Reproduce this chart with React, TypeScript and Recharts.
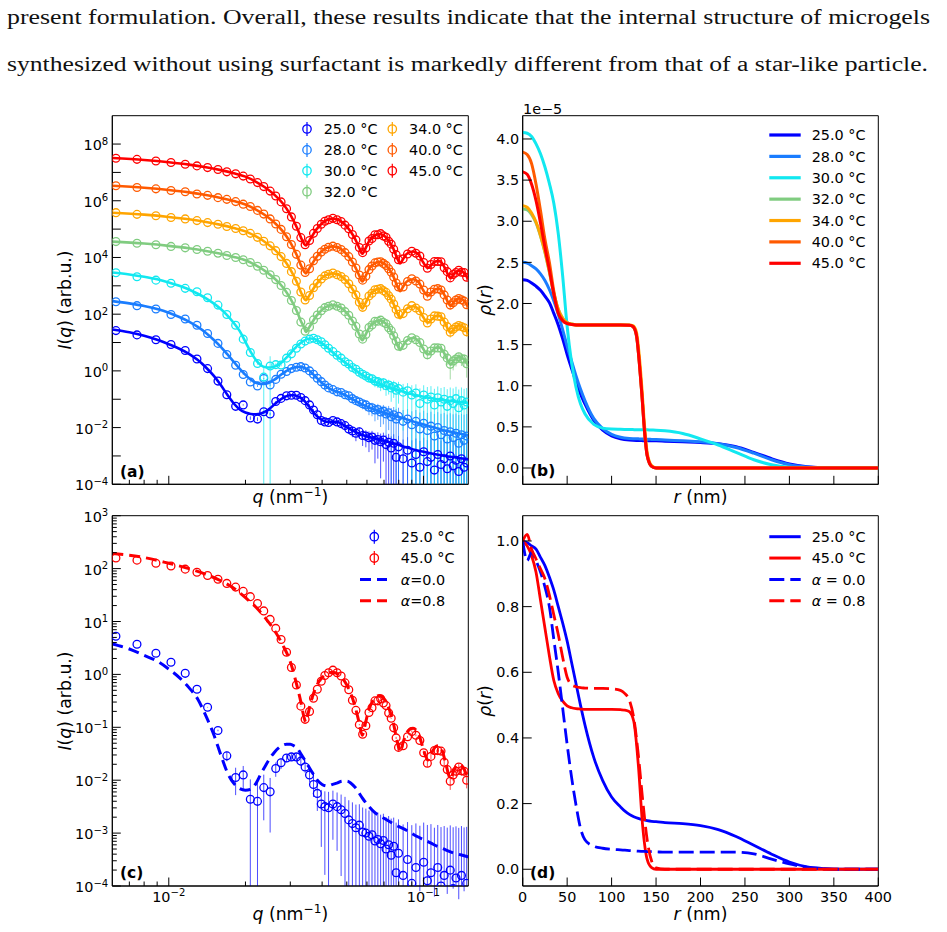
import React from 'react';
import { ComposedChart, Line, Scatter, XAxis, YAxis, ErrorBar, ReferenceArea } from 'recharts';

// #region text and labels
const PARAGRAPH = [
  'present formulation. Overall, these results indicate that the internal structure of microgels',
  'synthesized without using surfactant is markedly different from that of a star-like particle.',
];
const TEMP_LABELS = ['25.0 °C', '28.0 °C', '30.0 °C', '32.0 °C', '34.0 °C', '40.0 °C', '45.0 °C'];
const TEMP_COLORS = ['#0000ff', '#1a7dff', '#12e8f0', '#80cc80', '#ffa500', '#ff5a00', '#ff0000'];
const MODEL_VALUES = ['0.0', '0.8'];
// #endregion

// #region axes
const Q_DOMAIN = [0.006, 0.15];
const Q_TICKS = [0.007, 0.008, 0.009, 0.01, 0.02, 0.03, 0.04, 0.05, 0.06, 0.07, 0.08, 0.09, 0.1];
const IA_DOMAIN = [1e-4, 1e9];
const IA_TICKS = [1e-4, 1e-3, 1e-2, 1e-1, 1, 1e1, 1e2, 1e3, 1e4, 1e5, 1e6, 1e7, 1e8];
const IC_DOMAIN = [1e-4, 1e3];
const IC_DECADES = [1e-4, 1e-3, 1e-2, 1e-1, 1, 10, 100];
const MANTISSAS = [1, 2, 3, 4, 5, 6, 7, 8, 9];
const IC_TICKS = [...IC_DECADES.flatMap((d) => MANTISSAS.map((m) => m * d)), 1e3];
const R_DOMAIN = [0, 400];
const R_TICKS = [0, 50, 100, 150, 200, 250, 300, 350, 400];
const RHO_B_DOMAIN = [-0.198, 4.283];
const RHO_B_TICKS = [0, 0.5, 1, 1.5, 2, 2.5, 3, 3.5, 4];
const RHO_D_DOMAIN = [-0.051, 1.077];
const RHO_D_TICKS = [0, 0.2, 0.4, 0.6, 0.8, 1.0];
// #endregion

// #region panel (a): measured I(q), log10 values as plotted
const QD = [
  0.0062, 0.0075, 0.0089, 0.0102, 0.0116, 0.0129, 0.0142, 0.0156, 0.0169, 0.0183,
  0.0196, 0.0209, 0.0223, 0.0236, 0.025, 0.0263, 0.0276, 0.029, 0.0303, 0.0317,
  0.033, 0.0343, 0.0357, 0.037, 0.0383, 0.0397, 0.041, 0.0424, 0.0441, 0.0458,
  0.0475, 0.0492, 0.0509, 0.0526, 0.0543, 0.056, 0.0577, 0.0594, 0.0611, 0.0628,
  0.0645, 0.0662, 0.0679, 0.0696, 0.0713, 0.073, 0.0747, 0.0764, 0.0781, 0.0798,
  0.0832, 0.0866, 0.09, 0.0934, 0.0968, 0.1002, 0.1036, 0.107, 0.1104, 0.1138,
  0.1172, 0.1206, 0.124, 0.1274, 0.1308, 0.1342, 0.1376, 0.141, 0.1444, 0.1478,
];
const D25 = [
  1.42, 1.27, 1.1, 0.93, 0.72, 0.42, 0.08, -0.36, -0.84, -1.25,
  -1.2, -1.66, -1.7, -1.44, -1.52, -1.08, -0.97, -0.88, -0.86, -0.86,
  -0.94, -1.05, -1.2, -1.38, -1.55, -1.75, -1.8, -1.82, -1.75, -1.8,
  -1.86, -1.93, -2.05, -2.12, -2.2, -2.15, -2.28, -2.3, -2.36, -2.33,
  -2.45, -2.42, -2.5, -2.44, -2.6, -2.52, -2.72, -2.55, -3.05, -2.68,
  -3.1, -2.8, -3.25, -2.95, -3.4, -2.85, -3.2, -3.05, -3.5, -2.95,
  -3.3, -3.1, -3.45, -3.0, -3.35, -3.15, -3.55, -3.1, -3.4, -3.25,
];
const D28 = [
  2.44, 2.3, 2.18, 1.99, 1.83, 1.61, 1.32, 0.97, 0.58, 0.2,
  -0.13, -0.39, -0.53, -0.27, -0.5, -0.3, -0.12, -0.02, 0.08, 0.13,
  0.15, 0.1, 0.0, -0.12, -0.26, -0.38, -0.5, -0.6, -0.66, -0.74,
  -0.76, -0.84, -0.88, -0.98, -1.05, -1.1, -1.16, -1.2, -1.28, -1.3,
  -1.38, -1.36, -1.45, -1.42, -1.52, -1.48, -1.62, -1.55, -1.7, -1.6,
  -1.78, -1.7, -1.9, -1.78, -2.05, -1.85, -2.1, -1.95, -2.3, -2.0,
  -2.25, -2.1, -2.4, -2.15, -2.35, -2.2, -2.55, -2.25, -2.45, -2.3,
];
const D30 = [
  3.46, 3.32, 3.2, 3.09, 2.91, 2.79, 2.58, 2.32, 1.99, 1.61,
  1.12, 0.65, 0.26, -0.22, 0.17, 0.22, 0.21, 0.45, 0.6, 0.8,
  0.95, 1.05, 1.12, 1.15, 1.1, 1.03, 0.92, 0.8, 0.68, 0.55,
  0.45, 0.32, 0.24, 0.12, 0.06, -0.05, -0.12, -0.18, -0.25, -0.28,
  -0.36, -0.38, -0.44, -0.42, -0.52, -0.5, -0.6, -0.55, -0.68, -0.62,
  -0.75, -0.7, -0.85, -0.78, -1.15, -0.85, -1.0, -0.92, -1.2, -0.95,
  -1.1, -1.0, -1.25, -1.05, -1.15, -0.98, -1.3, -1.05, -1.2, -1.1,
];
const D32 = [
  4.56, 4.5, 4.45, 4.39, 4.34, 4.28, 4.22, 4.15, 4.07, 4.0,
  3.92, 3.82, 3.69, 3.55, 3.39, 3.22, 3.01, 2.77, 2.48, 2.13,
  1.72, 1.4, 1.55, 1.8, 1.97, 2.12, 2.23, 2.28, 2.33, 2.28,
  2.22, 2.09, 1.96, 1.76, 1.57, 1.3, 1.12, 1.28, 1.53, 1.62,
  1.75, 1.75, 1.79, 1.71, 1.66, 1.52, 1.42, 1.24, 1.05, 0.87,
  0.9, 1.07, 1.17, 1.1, 1.0, 0.77, 0.57, 0.7, 0.81, 0.81,
  0.8, 0.59, 0.45, 0.23, 0.35, 0.42, 0.5, 0.43, 0.42, 0.25,
];
const D34 = [
  5.58, 5.52, 5.47, 5.41, 5.36, 5.3, 5.23, 5.17, 5.09, 5.02,
  4.94, 4.85, 4.71, 4.57, 4.41, 4.24, 4.03, 3.79, 3.5, 3.16,
  2.78, 2.5, 2.66, 2.93, 3.09, 3.24, 3.35, 3.41, 3.45, 3.39,
  3.33, 3.22, 3.07, 2.89, 2.68, 2.42, 2.24, 2.41, 2.64, 2.74,
  2.86, 2.88, 2.9, 2.83, 2.77, 2.65, 2.53, 2.36, 2.16, 2.0,
  2.02, 2.19, 2.3, 2.22, 2.12, 1.88, 1.69, 1.83, 1.94, 1.93,
  1.91, 1.72, 1.56, 1.36, 1.47, 1.55, 1.6, 1.56, 1.52, 1.38,
];
const D40 = [
  6.53, 6.47, 6.42, 6.36, 6.32, 6.24, 6.19, 6.11, 6.05, 5.97,
  5.88, 5.8, 5.66, 5.53, 5.36, 5.18, 4.99, 4.73, 4.46, 4.11,
  3.73, 3.47, 3.6, 3.88, 4.04, 4.19, 4.29, 4.36, 4.4, 4.35,
  4.28, 4.17, 4.03, 3.84, 3.63, 3.38, 3.2, 3.34, 3.57, 3.7,
  3.81, 3.84, 3.85, 3.79, 3.72, 3.6, 3.48, 3.31, 3.1, 2.96,
  2.96, 3.15, 3.25, 3.17, 3.06, 2.85, 2.63, 2.78, 2.88, 2.9,
  2.85, 2.68, 2.5, 2.32, 2.4, 2.5, 2.55, 2.51, 2.46, 2.33,
];
const D45 = [
  7.5, 7.46, 7.4, 7.35, 7.29, 7.23, 7.17, 7.1, 7.02, 6.95,
  6.87, 6.77, 6.64, 6.5, 6.34, 6.17, 5.96, 5.72, 5.43, 5.1,
  4.7, 4.45, 4.6, 4.85, 5.02, 5.17, 5.28, 5.33, 5.38, 5.33,
  5.27, 5.14, 5.01, 4.81, 4.62, 4.35, 4.17, 4.33, 4.58, 4.67,
  4.8, 4.8, 4.84, 4.76, 4.71, 4.57, 4.47, 4.29, 4.1, 3.92,
  3.95, 4.12, 4.22, 4.15, 4.05, 3.82, 3.62, 3.75, 3.86, 3.86,
  3.85, 3.64, 3.5, 3.28, 3.4, 3.47, 3.55, 3.48, 3.47, 3.3,
];
// noise level (absolute, plotted units) per temperature
const SIGMA_A = [0.003, 0.025, 0.17, 1.2, 8, 60, 500];
const WIDE30_Q = [0.0236, 0.025];
const WIDE30_SIG = [0.9, 1.8];
// #endregion

// #region panel (a): fitted curves, log10 values
const QS = [
  0.006, 0.007, 0.008, 0.009, 0.01, 0.011, 0.012, 0.013, 0.014, 0.015,
  0.016, 0.017, 0.018, 0.019, 0.02, 0.021, 0.022, 0.023, 0.024, 0.025,
  0.026, 0.027, 0.028, 0.029, 0.03, 0.031, 0.032, 0.033, 0.034, 0.035,
  0.036, 0.037, 0.038, 0.04, 0.042, 0.044, 0.046, 0.048, 0.05, 0.054,
  0.058, 0.064, 0.07, 0.078, 0.086, 0.094, 0.102, 0.11, 0.12, 0.13,
  0.14, 0.15,
];
const FIT25 = [
  1.46, 1.36, 1.24, 1.1, 0.94, 0.78, 0.6, 0.38, 0.12, -0.17,
  -0.5, -0.85, -1.15, -1.36, -1.47, -1.52, -1.53, -1.5, -1.43, -1.32,
  -1.18, -1.06, -0.96, -0.89, -0.86, -0.86, -0.89, -0.95, -1.05, -1.18,
  -1.32, -1.46, -1.58, -1.74, -1.8, -1.79, -1.8, -1.88, -1.98, -2.15,
  -2.27, -2.38, -2.47, -2.58, -2.7, -2.8, -2.87, -2.93, -2.99, -3.04,
  -3.08, -3.12,
];
const FIT28 = [
  2.46, 2.38, 2.29, 2.18, 2.05, 1.9, 1.74, 1.55, 1.34, 1.1,
  0.85, 0.58, 0.32, 0.07, -0.14, -0.31, -0.42, -0.46, -0.45, -0.4,
  -0.31, -0.2, -0.09, 0.0, 0.07, 0.12, 0.14, 0.14, 0.11, 0.05,
  -0.03, -0.13, -0.24, -0.43, -0.58, -0.68, -0.74, -0.8, -0.88, -1.05,
  -1.2, -1.36, -1.48, -1.6, -1.71, -1.82, -1.91, -2.0, -2.09, -2.16,
  -2.22, -2.28,
];
const FIT30 = [
  3.47, 3.4, 3.32, 3.23, 3.12, 3.0, 2.87, 2.72, 2.56, 2.38,
  2.18, 1.95, 1.69, 1.4, 1.02, 0.66, 0.38, 0.2, 0.13, 0.12,
  0.15, 0.22, 0.33, 0.47, 0.62, 0.76, 0.89, 0.99, 1.07, 1.12,
  1.14, 1.13, 1.09, 0.97, 0.82, 0.66, 0.5, 0.37, 0.25, 0.03,
  -0.16, -0.37, -0.52, -0.66, -0.77, -0.86, -0.93, -0.98, -1.03, -1.07,
  -1.1, -1.13,
];
const QK = [
  0.006, 0.008, 0.01, 0.012, 0.014, 0.016, 0.018, 0.02, 0.022, 0.024,
  0.026, 0.028, 0.03, 0.032, 0.033, 0.034, 0.0345, 0.035, 0.036, 0.038,
  0.04, 0.042, 0.044, 0.046, 0.048, 0.05, 0.052, 0.054, 0.056, 0.0575,
  0.059, 0.061, 0.064, 0.067, 0.07, 0.073, 0.076, 0.079, 0.081, 0.083,
  0.086, 0.091, 0.096, 0.1, 0.104, 0.108, 0.112, 0.115, 0.118, 0.122,
  0.126, 0.128, 0.131, 0.135, 0.139, 0.144, 0.15,
];
const FIT32 = [
  4.56, 4.49, 4.41, 4.325, 4.23, 4.13, 4.02, 3.9, 3.72, 3.51,
  3.26, 2.96, 2.56, 2.06, 1.76, 1.53, 1.37, 1.43, 1.61, 1.94,
  2.16, 2.28, 2.32, 2.29, 2.19, 2.04, 1.84, 1.59, 1.28, 1.08,
  1.24, 1.51, 1.71, 1.78, 1.72, 1.54, 1.28, 0.91, 0.74, 0.88,
  1.08, 1.16, 1.04, 0.76, 0.58, 0.71, 0.82, 0.83, 0.76, 0.54,
  0.28, 0.22, 0.34, 0.46, 0.49, 0.41, 0.18,
];
const FIT34 = [
  5.58, 5.51, 5.43, 5.345, 5.25, 5.15, 5.04, 4.92, 4.74, 4.53,
  4.28, 3.98, 3.58, 3.08, 2.78, 2.55, 2.49, 2.55, 2.73, 3.06,
  3.28, 3.4, 3.44, 3.41, 3.31, 3.16, 2.96, 2.71, 2.4, 2.2,
  2.36, 2.63, 2.83, 2.9, 2.84, 2.66, 2.4, 2.03, 1.86, 2.0,
  2.2, 2.28, 2.16, 1.88, 1.7, 1.83, 1.94, 1.95, 1.88, 1.66,
  1.4, 1.34, 1.46, 1.58, 1.61, 1.53, 1.3,
];
const FIT40 = [
  6.53, 6.46, 6.38, 6.295, 6.2, 6.1, 5.99, 5.87, 5.69, 5.48,
  5.23, 4.93, 4.53, 4.03, 3.73, 3.5, 3.44, 3.5, 3.68, 4.01,
  4.23, 4.35, 4.39, 4.36, 4.26, 4.11, 3.91, 3.66, 3.35, 3.15,
  3.31, 3.58, 3.78, 3.85, 3.79, 3.61, 3.35, 2.98, 2.81, 2.95,
  3.15, 3.23, 3.11, 2.83, 2.65, 2.78, 2.89, 2.9, 2.83, 2.61,
  2.35, 2.29, 2.41, 2.53, 2.56, 2.48, 2.25,
];
const FIT45 = [
  7.51, 7.44, 7.36, 7.275, 7.18, 7.08, 6.97, 6.85, 6.67, 6.46,
  6.21, 5.91, 5.51, 5.01, 4.71, 4.48, 4.42, 4.48, 4.66, 4.99,
  5.21, 5.33, 5.37, 5.34, 5.24, 5.09, 4.89, 4.64, 4.33, 4.13,
  4.29, 4.56, 4.76, 4.83, 4.77, 4.59, 4.33, 3.96, 3.79, 3.93,
  4.13, 4.21, 4.09, 3.81, 3.63, 3.76, 3.87, 3.88, 3.81, 3.59,
  3.33, 3.27, 3.39, 3.51, 3.54, 3.46, 3.23,
];
// #endregion

// #region panel (c): 25 and 45 °C re-normalised, models
const C_SHIFT = [-0.7, -5.3];
const SIG_C25 = [
  0.003, 0.003, 0.003, 0.003, 0.003, 0.003, 0.003, 0.003, 0.006, 0.006,
  0.006, 0.006, 0.006, 0.0055, 0.005, 0.005, 0.005, 0.0045, 0.0045, 0.004,
  0.004, 0.004, 0.0035, 0.0035, 0.003, 0.003, 0.003, 0.003, 0.0028, 0.0027,
  0.0026, 0.0025, 0.0024, 0.0023, 0.0022, 0.0021, 0.002, 0.0019, 0.0018, 0.0018,
  0.0017, 0.0017, 0.0016, 0.0016, 0.0015, 0.0015, 0.0015, 0.0014, 0.0014, 0.0014,
  0.0013, 0.0013, 0.0013, 0.0013, 0.0013, 0.0013, 0.0013, 0.0013, 0.0012, 0.0012,
  0.0012, 0.0012, 0.0012, 0.0012, 0.0012, 0.0012, 0.0012, 0.0012, 0.0012, 0.0012,
];
const SIG_C45 = 0.003;
const ALPHA00 = [
  0.575, 0.48, 0.36, 0.25, 0.1, -0.06, -0.25, -0.47, -0.79, -1.13,
  -1.52, -1.86, -2.06, -2.16, -2.19, -2.17, -2.06, -1.88, -1.72, -1.58,
  -1.47, -1.39, -1.34, -1.32, -1.32, -1.35, -1.4, -1.5, -1.6, -1.7,
  -1.8, -1.89, -1.98, -2.08, -2.11, -2.08, -2.05, -2.02, -2.02, -2.14,
  -2.36, -2.6, -2.72, -2.85, -2.95, -3.06, -3.14, -3.22, -3.3, -3.37,
  -3.41, -3.45,
];
const ALPHA08 = [
  2.285, 2.21, 2.1, 2.0, 1.89, 1.77, 1.63, 1.45, 1.27, 1.06,
  0.83, 0.56, 0.24, -0.25, -0.52, -0.82, -0.9, -0.8, -0.55, -0.22,
  -0.06, 0.02, 0.04, 0.01, -0.07, -0.2, -0.38, -0.62, -0.93, -1.15,
  -0.95, -0.67, -0.47, -0.4, -0.46, -0.63, -0.9, -1.28, -1.47, -1.3,
  -1.1, -1.02, -1.14, -1.42, -1.62, -1.47, -1.36, -1.35, -1.42, -1.66,
  -1.92, -1.98, -1.84, -1.72, -1.7, -1.78, -2.0,
];
// #endregion

// #region panel (b): rho(r) in units of 1e-5
const RB = [
  0, 5, 10, 15, 20, 25, 30, 35, 40, 45,
  50, 55, 60, 65, 70, 80, 90, 100, 110, 120,
  124, 128, 131, 134, 137, 140, 145, 150, 160, 180,
  200, 220, 240, 260, 280, 300, 320, 340, 360, 400,
];
const B25 = [
  2.29, 2.28, 2.25, 2.21, 2.16, 2.09, 2.01, 1.88, 1.74, 1.57,
  1.38, 1.21, 1.05, 0.9, 0.78, 0.58, 0.46, 0.39, 0.355, 0.34,
  0.337, 0.335, 0.334, 0.333, 0.332, 0.332, 0.33, 0.33, 0.326, 0.318,
  0.31, 0.295, 0.26, 0.19, 0.113, 0.05, 0.016, 0.004, 0, 0,
];
const B28 = [
  2.5, 2.49, 2.46, 2.42, 2.36, 2.28, 2.17, 2.03, 1.87, 1.68,
  1.48, 1.3, 1.12, 0.96, 0.82, 0.6, 0.48, 0.41, 0.375, 0.36,
  0.357, 0.355, 0.354, 0.353, 0.352, 0.35, 0.348, 0.346, 0.34, 0.33,
  0.318, 0.295, 0.25, 0.18, 0.1, 0.04, 0.012, 0.002, 0, 0,
];
const B30 = [
  4.08, 4.07, 4.03, 3.94, 3.82, 3.66, 3.46, 3.22, 2.85, 2.33,
  1.72, 1.28, 0.98, 0.78, 0.66, 0.53, 0.485, 0.473, 0.47, 0.468,
  0.467, 0.466, 0.466, 0.465, 0.465, 0.464, 0.462, 0.46, 0.452, 0.42,
  0.355, 0.28, 0.19, 0.1, 0.04, 0.01, 0.002, 0, 0, 0,
];
const B32 = [
  3.15, 3.14, 3.08, 2.98, 2.82, 2.62, 2.38, 2.12, 1.93, 1.82,
  1.77, 1.75, 1.74, 1.74, 1.74, 1.74, 1.74, 1.74, 1.74, 1.735,
  1.72, 1.6, 1.3, 0.9, 0.45, 0.15, 0.02, 0, 0, 0,
  0, 0, 0, 0, 0, 0, 0, 0, 0, 0,
];
const B34 = [
  3.19, 3.17, 3.1, 2.99, 2.83, 2.63, 2.39, 2.13, 1.93, 1.82,
  1.77, 1.75, 1.74, 1.74, 1.74, 1.74, 1.74, 1.74, 1.74, 1.738,
  1.73, 1.65, 1.38, 0.98, 0.52, 0.19, 0.03, 0.003, 0, 0,
  0, 0, 0, 0, 0, 0, 0, 0, 0, 0,
];
const B40 = [
  3.84, 3.81, 3.7, 3.45, 3.13, 2.78, 2.5, 2.15, 1.9, 1.8,
  1.76, 1.745, 1.74, 1.74, 1.74, 1.74, 1.74, 1.74, 1.74, 1.735,
  1.72, 1.61, 1.31, 0.91, 0.46, 0.16, 0.02, 0, 0, 0,
  0, 0, 0, 0, 0, 0, 0, 0, 0, 0,
];
const B45 = [
  3.6, 3.57, 3.45, 3.25, 2.98, 2.68, 2.41, 2.11, 1.88, 1.79,
  1.755, 1.745, 1.74, 1.74, 1.74, 1.74, 1.74, 1.74, 1.74, 1.735,
  1.72, 1.61, 1.3, 0.9, 0.45, 0.15, 0.02, 0, 0, 0,
  0, 0, 0, 0, 0, 0, 0, 0, 0, 0,
];
// #endregion

// #region panel (d): normalised rho(r)
const RD = [
  0, 5, 10, 15, 20, 25, 30, 35, 40, 45,
  50, 55, 60, 65, 70, 80, 90, 100, 110, 115,
  120, 125, 130, 135, 140, 145, 150, 160, 180, 200,
  220, 240, 260, 280, 300, 320, 340, 360, 380, 400,
];
const D_25 = [
  1.0, 0.995, 0.985, 0.975, 0.95, 0.925, 0.89, 0.85, 0.8, 0.75,
  0.695, 0.63, 0.565, 0.5, 0.44, 0.34, 0.27, 0.22, 0.19, 0.177,
  0.167, 0.16, 0.155, 0.151, 0.148, 0.146, 0.145, 0.142, 0.139, 0.133,
  0.121, 0.1, 0.073, 0.046, 0.022, 0.007, 0.002, 0, 0, 0,
];
const D_45 = [
  1.0, 0.985, 0.955, 0.905, 0.82, 0.735, 0.65, 0.575, 0.535, 0.512,
  0.498, 0.492, 0.489, 0.488, 0.487, 0.487, 0.487, 0.487, 0.486, 0.485,
  0.48, 0.45, 0.32, 0.13, 0.03, 0.005, 0, 0, 0, 0,
  0, 0, 0, 0, 0, 0, 0, 0, 0, 0,
];
const D_A00 = [
  1.0, 0.94, 0.965, 0.94, 0.905, 0.86, 0.8, 0.7, 0.6, 0.49,
  0.38, 0.28, 0.195, 0.125, 0.09, 0.07, 0.064, 0.061, 0.059, 0.058,
  0.057, 0.056, 0.055, 0.0545, 0.054, 0.0535, 0.053, 0.052, 0.052, 0.052,
  0.052, 0.052, 0.047, 0.031, 0.016, 0.006, 0.001, 0, 0, 0,
];
const D_A08 = [
  1.0, 1.02, 0.975, 0.945, 0.915, 0.885, 0.835, 0.775, 0.715, 0.645,
  0.585, 0.562, 0.556, 0.553, 0.552, 0.551, 0.551, 0.55, 0.545, 0.535,
  0.515, 0.46, 0.35, 0.21, 0.09, 0.025, 0.004, 0, 0, 0,
  0, 0, 0, 0, 0, 0, 0, 0, 0, 0,
];
// #endregion

const W = 947;
const H = 932;
const YW = 50;
const XH = 30;
const SANS = '"DejaVu Sans", Verdana, sans-serif';
const SERIF = '"Liberation Serif", serif';
const TICK_FS = 14.4;
const LABEL_FS = 17.3;
const AXIS_LINE = { stroke: '#000', strokeWidth: 1 };

const RECT_A = { x0: 112.3, x1: 468.3, y0: 115.7, y1: 484.3 };
const RECT_B = { x0: 522.7, x1: 878.3, y0: 115.7, y1: 484.3 };
const RECT_C = { x0: 112.3, x1: 468.3, y0: 515.7, y1: 886 };
const RECT_D = { x0: 522.7, x1: 878.3, y0: 515.7, y1: 886 };

const logPts = (xs: number[], logs: number[], shift = 0) =>
  xs.map((x, i) => ({ x, y: Math.pow(10, logs[i] + shift) }));
const linPts = (xs: number[], ys: number[]) => xs.map((x, i) => ({ x, y: ys[i] }));
const addErr = (p: { x: number; y: number }, sig: number) => {
  const lo = Math.max(0, Math.min(sig, p.y - 1e-4));
  return { ...p, e: [lo, sig] };
};

const DATA_A = [D25, D28, D30, D32, D34, D40, D45];
const FIT_A = [FIT25, FIT28, FIT30, FIT32, FIT34, FIT40, FIT45];
const FIT_GRID = [QS, QS, QS, QK, QK, QK, QK];
const B_CURVES = [B25, B28, B30, B32, B34, B40, B45];

const A_SERIES = TEMP_LABELS.map((name, i) => ({
  name,
  color: TEMP_COLORS[i],
  markers: logPts(QD, DATA_A[i]).map((p) => {
    const k = WIDE30_Q.indexOf(p.x);
    return addErr(p, i === 2 && k >= 0 ? WIDE30_SIG[k] : SIGMA_A[i]);
  }),
  fit: logPts(FIT_GRID[i], FIT_A[i]),
}));

const C_MARKERS = [
  { color: TEMP_COLORS[0], pts: logPts(QD, D25, C_SHIFT[0]).map((p, i) => addErr(p, SIG_C25[i])) },
  { color: TEMP_COLORS[6], pts: logPts(QD, D45, C_SHIFT[1]).map((p) => addErr(p, SIG_C45)) },
];
const C_MODELS = [
  { color: TEMP_COLORS[0], pts: logPts(QS, ALPHA00) },
  { color: TEMP_COLORS[6], pts: logPts(QK, ALPHA08) },
];

const sup = (e: number) => (e < 0 ? '\u2212' + Math.abs(e) : String(e));
const isDecade = (v: number) => {
  const e = Math.log10(v);
  return Math.abs(e - Math.round(e)) < 1e-6;
};

const logXTick = (labels: boolean) => (p: any) => {
  const v = p.payload.value;
  const major = isDecade(v);
  return (
    <g>
      <line x1={p.x} x2={p.x} y1={p.y} y2={p.y - (major ? 8.5 : 4.5)} stroke="#000" strokeWidth={1} />
      {labels && major ? (
        <text x={p.x} y={p.y + 15.5} textAnchor="middle" fontFamily={SANS} fontSize={TICK_FS} fill="#000">
          10<tspan dy={-5.5} fontSize={10.1}>{sup(Math.round(Math.log10(v)))}</tspan>
        </text>
      ) : null}
    </g>
  );
};

const logYTick = (every: number) => (p: any) => {
  const v = p.payload.value;
  const major = isDecade(v);
  const e = Math.round(Math.log10(v));
  const show = major && ((e % every) + every) % every === 0;
  return (
    <g>
      <line x1={p.x} x2={p.x + (major ? 8.5 : 4.5)} y1={p.y} y2={p.y} stroke="#000" strokeWidth={1} />
      {show ? (
        <text x={p.x - 4} y={p.y + 6} textAnchor="end" fontFamily={SANS} fontSize={TICK_FS} fill="#000">
          10<tspan dy={-5.5} fontSize={10.1}>{sup(e)}</tspan>
        </text>
      ) : null}
    </g>
  );
};

const linXTick = (labels: boolean) => (p: any) => (
  <g>
    <line x1={p.x} x2={p.x} y1={p.y} y2={p.y - 8.5} stroke="#000" strokeWidth={1} />
    {labels ? (
      <text x={p.x} y={p.y + 15.5} textAnchor="middle" fontFamily={SANS} fontSize={TICK_FS} fill="#000">
        {String(p.payload.value)}
      </text>
    ) : null}
  </g>
);

const linYTick = (p: any) => (
  <g>
    <line x1={p.x} x2={p.x + 9} y1={p.y} y2={p.y} stroke="#000" strokeWidth={1} />
    <text x={p.x - 3.5} y={p.y + 5.2} textAnchor="end" fontFamily={SANS} fontSize={TICK_FS} fill="#000">
      {Number(p.payload.value).toFixed(1)}
    </text>
  </g>
);

const ring = (color: string) => (p: any) =>
  <circle cx={p.cx} cy={p.cy} r={3.9} fill="none" stroke={color} strokeWidth={1.3} />;

function Panel({ rect, children }: { rect: typeof RECT_A; children: React.ReactNode }) {
  const margin = { top: rect.y0, left: rect.x0 - YW, right: W - rect.x1, bottom: H - rect.y1 - XH };
  return (
    <div style={{ position: 'absolute', left: 0, top: 0 }}>
      <ComposedChart width={W} height={H} margin={margin}>
        {children}
      </ComposedChart>
    </div>
  );
}

function ErrGlyph({ x, y, color }: { x: number; y: number; color: string }) {
  return (
    <g>
      <line x1={x} x2={x} y1={y - 7} y2={y + 7} stroke={color} strokeWidth={1.2} />
      <circle cx={x} cy={y} r={4.2} fill="none" stroke={color} strokeWidth={1.3} />
    </g>
  );
}

function LegText({ x, y, children }: { x: number; y: number; children: React.ReactNode }) {
  return (
    <text x={x} y={y + 5.2} fontFamily={SANS} fontSize={TICK_FS} fill="#000">
      {children}
    </text>
  );
}

function QLabel({ cx, cy }: { cx: number; cy: number }) {
  return (
    <text x={cx} y={cy + 6.5} textAnchor="middle" fontFamily={SANS} fontSize={LABEL_FS} fill="#000">
      <tspan fontStyle="italic">q</tspan> (nm<tspan dy={-6.5} fontSize={12.2}>{'\u22121'}</tspan>
      <tspan dy={6.5}>)</tspan>
    </text>
  );
}

function ILabel({ cx, cy }: { cx: number; cy: number }) {
  return (
    <text transform={`translate(${cx},${cy}) rotate(-90)`} y={6} textAnchor="middle" fontFamily={SANS} fontSize={LABEL_FS} fill="#000">
      <tspan fontStyle="italic">I</tspan>(<tspan fontStyle="italic">q</tspan>) (arb.u.)
    </text>
  );
}

function RhoLabel({ cx, cy }: { cx: number; cy: number }) {
  return (
    <text transform={`translate(${cx},${cy}) rotate(-90)`} y={5} textAnchor="middle" fontFamily={SANS} fontSize={LABEL_FS} fill="#000">
      <tspan fontStyle="italic">ρ</tspan>(<tspan fontStyle="italic">r</tspan>)
    </text>
  );
}

function RLabel({ cx, cy }: { cx: number; cy: number }) {
  return (
    <text x={cx} y={cy + 6.5} textAnchor="middle" fontFamily={SANS} fontSize={LABEL_FS} fill="#000">
      <tspan fontStyle="italic">r</tspan> (nm)
    </text>
  );
}

export default function App() {
  const legA = { x: 307, y: 129, dx: 85.3, dy: 20.9, tx: 16.7 };
  const legB = { x0: 769.3, x1: 800.7, tx: 811.7, y: 135, dy: 21.38 };
  const legC = { gx: 374.3, x0: 360, x1: 387, tx: 400.7, y: 536.7, dy: 21.35 };
  const legD = { x0: 769.3, x1: 800.7, tx: 811.7, y: 536.7, dy: 21.35 };

  return (
    <div style={{ position: 'absolute', left: 0, top: 0, width: W, height: H, background: '#fff' }}>
      {/* (a) */}
      <Panel rect={RECT_A}>
        <XAxis dataKey="x" type="number" scale="log" domain={Q_DOMAIN} allowDataOverflow ticks={Q_TICKS} interval={0}
          tickSize={0} tickMargin={0} tickLine={false} axisLine={AXIS_LINE} tick={logXTick(false)} height={XH} />
        <YAxis type="number" scale="log" domain={IA_DOMAIN} allowDataOverflow ticks={IA_TICKS} interval={0}
          tickSize={0} tickMargin={0} tickLine={false} axisLine={AXIS_LINE} tick={logYTick(2)} width={YW} />
        <ReferenceArea x1={Q_DOMAIN[0]} x2={Q_DOMAIN[1]} y1={IA_DOMAIN[0]} y2={IA_DOMAIN[1]} fill="none" fillOpacity={0}
          stroke="#000" strokeWidth={1} ifOverflow="visible" />
        {A_SERIES.map((s) => (
          <Scatter key={'m' + s.name} data={s.markers} dataKey="y" shape={ring(s.color)} isAnimationActive={false}>
            <ErrorBar dataKey="e" direction="y" width={0} stroke={s.color} strokeWidth={1} strokeOpacity={0.7} />
          </Scatter>
        ))}
        {A_SERIES.map((s) => (
          <Line key={'f' + s.name} data={s.fit} dataKey="y" type="monotone" stroke={s.color} strokeWidth={2.6}
            dot={false} activeDot={false} isAnimationActive={false} />
        ))}
      </Panel>

      {/* (b) */}
      <Panel rect={RECT_B}>
        <XAxis dataKey="x" type="number" domain={R_DOMAIN} allowDataOverflow ticks={R_TICKS} interval={0}
          tickSize={0} tickMargin={0} tickLine={false} axisLine={AXIS_LINE} tick={linXTick(false)} height={XH} />
        <YAxis type="number" domain={RHO_B_DOMAIN} allowDataOverflow ticks={RHO_B_TICKS} interval={0}
          tickSize={0} tickMargin={0} tickLine={false} axisLine={AXIS_LINE} tick={linYTick} width={YW} />
        <ReferenceArea x1={R_DOMAIN[0]} x2={R_DOMAIN[1]} y1={RHO_B_DOMAIN[0]} y2={RHO_B_DOMAIN[1]} fill="none"
          fillOpacity={0} stroke="#000" strokeWidth={1} ifOverflow="visible" />
        {B_CURVES.map((c, i) => (
          <Line key={'b' + i} data={linPts(RB, c)} dataKey="y" type="monotone" stroke={TEMP_COLORS[i]} strokeWidth={3}
            dot={false} activeDot={false} isAnimationActive={false} />
        ))}
      </Panel>

      {/* (c) */}
      <Panel rect={RECT_C}>
        <XAxis dataKey="x" type="number" scale="log" domain={Q_DOMAIN} allowDataOverflow ticks={Q_TICKS} interval={0}
          tickSize={0} tickMargin={0} tickLine={false} axisLine={AXIS_LINE} tick={logXTick(true)} height={XH} />
        <YAxis type="number" scale="log" domain={IC_DOMAIN} allowDataOverflow ticks={IC_TICKS} interval={0}
          tickSize={0} tickMargin={0} tickLine={false} axisLine={AXIS_LINE} tick={logYTick(1)} width={YW} />
        <ReferenceArea x1={Q_DOMAIN[0]} x2={Q_DOMAIN[1]} y1={IC_DOMAIN[0]} y2={IC_DOMAIN[1]} fill="none" fillOpacity={0}
          stroke="#000" strokeWidth={1} ifOverflow="visible" />
        {C_MARKERS.map((s, i) => (
          <Scatter key={'cm' + i} data={s.pts} dataKey="y" shape={ring(s.color)} isAnimationActive={false}>
            <ErrorBar dataKey="e" direction="y" width={0} stroke={s.color} strokeWidth={1} strokeOpacity={0.7} />
          </Scatter>
        ))}
        {C_MODELS.map((s, i) => (
          <Line key={'cl' + i} data={s.pts} dataKey="y" type="monotone" stroke={s.color} strokeWidth={3}
            strokeDasharray="11 6" dot={false} activeDot={false} isAnimationActive={false} />
        ))}
      </Panel>

      {/* (d) */}
      <Panel rect={RECT_D}>
        <XAxis dataKey="x" type="number" domain={R_DOMAIN} allowDataOverflow ticks={R_TICKS} interval={0}
          tickSize={0} tickMargin={0} tickLine={false} axisLine={AXIS_LINE} tick={linXTick(true)} height={XH} />
        <YAxis type="number" domain={RHO_D_DOMAIN} allowDataOverflow ticks={RHO_D_TICKS} interval={0}
          tickSize={0} tickMargin={0} tickLine={false} axisLine={AXIS_LINE} tick={linYTick} width={YW} />
        <ReferenceArea x1={R_DOMAIN[0]} x2={R_DOMAIN[1]} y1={RHO_D_DOMAIN[0]} y2={RHO_D_DOMAIN[1]} fill="none"
          fillOpacity={0} stroke="#000" strokeWidth={1} ifOverflow="visible" />
        <Line data={linPts(RD, D_25)} dataKey="y" type="monotone" stroke={TEMP_COLORS[0]} strokeWidth={2.8}
          dot={false} activeDot={false} isAnimationActive={false} />
        <Line data={linPts(RD, D_45)} dataKey="y" type="monotone" stroke={TEMP_COLORS[6]} strokeWidth={2.8}
          dot={false} activeDot={false} isAnimationActive={false} />
        <Line data={linPts(RD, D_A00)} dataKey="y" type="monotone" stroke={TEMP_COLORS[0]} strokeWidth={2.8}
          strokeDasharray="15 6" dot={false} activeDot={false} isAnimationActive={false} />
        <Line data={linPts(RD, D_A08)} dataKey="y" type="monotone" stroke={TEMP_COLORS[6]} strokeWidth={2.8}
          strokeDasharray="15 6" dot={false} activeDot={false} isAnimationActive={false} />
      </Panel>

      {/* text, labels and legends */}
      <svg width={W} height={H} style={{ position: 'absolute', left: 0, top: 0, pointerEvents: 'none' }}>
        <text x={7} y={24} fontFamily={SERIF} fontSize={20.5} fontWeight={400} fill="#111"
          textLength={923} lengthAdjust="spacingAndGlyphs">{PARAGRAPH[0]}</text>
        <text x={7} y={70.5} fontFamily={SERIF} fontSize={20.5} fontWeight={400} fill="#111"
          textLength={921} lengthAdjust="spacingAndGlyphs">{PARAGRAPH[1]}</text>

        <ILabel cx={64.5} cy={300} />
        <QLabel cx={290.3} cy={496} />
        <RhoLabel cx={486} cy={300} />
        <RLabel cx={700.5} cy={496} />
        <ILabel cx={64.5} cy={701} />
        <QLabel cx={290.3} cy={913} />
        <RhoLabel cx={486} cy={701} />
        <RLabel cx={700.5} cy={913} />

        <text x={523} y={114} fontFamily={SANS} fontSize={TICK_FS} fill="#000">1e{'\u2212'}5</text>

        <text x={120} y={477} fontFamily={SANS} fontSize={15.5} fontWeight="bold" fill="#000">(a)</text>
        <text x={530} y={476} fontFamily={SANS} fontSize={15.5} fontWeight="bold" fill="#000">(b)</text>
        <text x={120} y={877.5} fontFamily={SANS} fontSize={15.5} fontWeight="bold" fill="#000">(c)</text>
        <text x={530} y={877.5} fontFamily={SANS} fontSize={15.5} fontWeight="bold" fill="#000">(d)</text>

        {A_SERIES.map((s, i) => {
          const col = i < 4 ? 0 : 1;
          const row = i < 4 ? i : i - 4;
          const x = legA.x + col * legA.dx;
          const y = legA.y + row * legA.dy;
          return (
            <g key={'la' + i}>
              <ErrGlyph x={x} y={y} color={s.color} />
              <LegText x={x + legA.tx} y={y}>{s.name}</LegText>
            </g>
          );
        })}

        {TEMP_LABELS.map((name, i) => {
          const y = legB.y + i * legB.dy;
          return (
            <g key={'lb' + i}>
              <line x1={legB.x0} x2={legB.x1} y1={y} y2={y} stroke={TEMP_COLORS[i]} strokeWidth={3.2} />
              <LegText x={legB.tx} y={y}>{name}</LegText>
            </g>
          );
        })}

        {[0, 6].map((ti, k) => (
          <g key={'lcm' + k}>
            <ErrGlyph x={legC.gx} y={legC.y + k * legC.dy} color={TEMP_COLORS[ti]} />
            <LegText x={legC.tx} y={legC.y + k * legC.dy}>{TEMP_LABELS[ti]}</LegText>
          </g>
        ))}
        {MODEL_VALUES.map((a, k) => {
          const y = legC.y + (k + 2) * legC.dy;
          return (
            <g key={'lcl' + k}>
              <line x1={legC.x0} x2={legC.x1} y1={y} y2={y} stroke={TEMP_COLORS[k === 0 ? 0 : 6]} strokeWidth={3}
                strokeDasharray="11 6" />
              <LegText x={legC.tx} y={y}>
                <tspan fontStyle="italic">α</tspan>={a}
              </LegText>
            </g>
          );
        })}

        {[0, 6].map((ti, k) => {
          const y = legD.y + k * legD.dy;
          return (
            <g key={'ldm' + k}>
              <line x1={legD.x0} x2={legD.x1} y1={y} y2={y} stroke={TEMP_COLORS[ti]} strokeWidth={3} />
              <LegText x={legD.tx} y={y}>{TEMP_LABELS[ti]}</LegText>
            </g>
          );
        })}
        {MODEL_VALUES.map((a, k) => {
          const y = legD.y + (k + 2) * legD.dy;
          return (
            <g key={'ldl' + k}>
              <line x1={legD.x0} x2={legD.x1} y1={y} y2={y} stroke={TEMP_COLORS[k === 0 ? 0 : 6]} strokeWidth={3}
                strokeDasharray="15 6" />
              <LegText x={legD.tx} y={y}>
                <tspan fontStyle="italic">α</tspan> = {a}
              </LegText>
            </g>
          );
        })}
      </svg>
    </div>
  );
}
